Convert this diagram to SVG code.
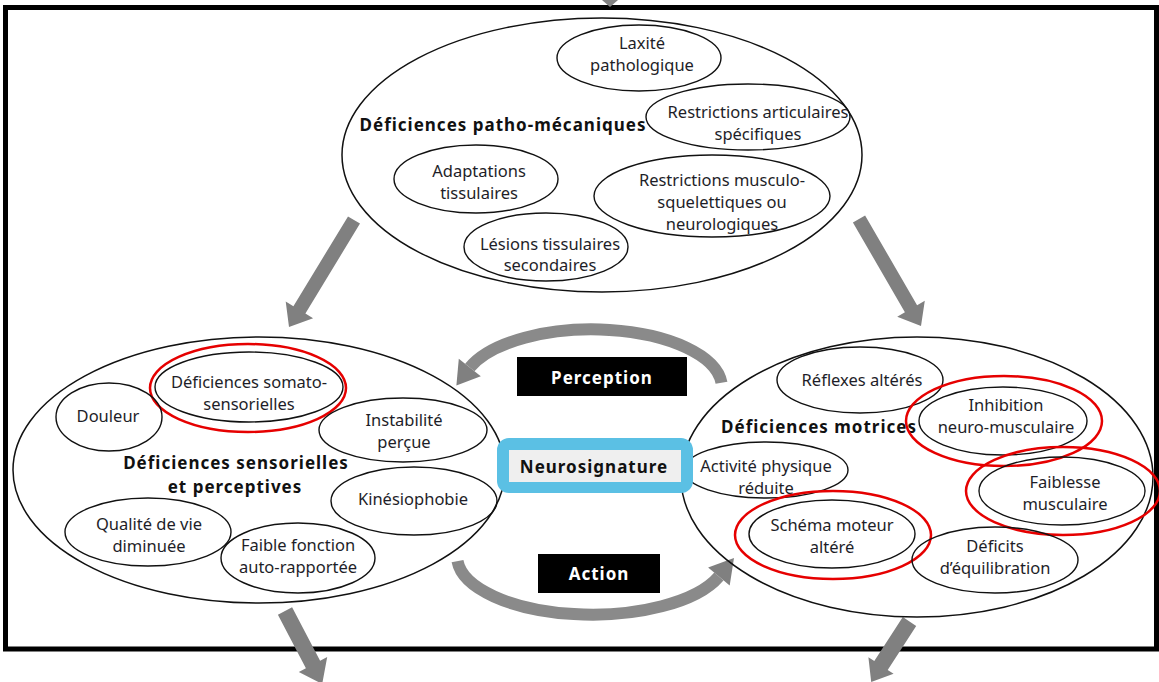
<svg xmlns="http://www.w3.org/2000/svg" width="1159" height="682" viewBox="0 0 1159 682">
<defs>
<style>
.t{font-family:"Noto Sans","Liberation Sans",sans-serif;font-size:16.5px;fill:#1e1e28;text-anchor:middle}
.b{font-family:"Noto Sans","Liberation Sans",sans-serif;font-size:17px;font-weight:bold;fill:#111;text-anchor:middle;letter-spacing:1px}
.w{font-family:"Noto Sans","Liberation Sans",sans-serif;font-size:17px;font-weight:bold;fill:#fff;text-anchor:middle;letter-spacing:1px}
.o{fill:none;stroke:#111;stroke-width:1.5}
.i{fill:none;stroke:#111;stroke-width:1.4}
.r{fill:none;stroke:#e60000;stroke-width:2.5}
.ar{fill:#808080}
.arc{fill:none;stroke:#8a8a8a;stroke-width:12}
</style>
</defs>
<rect x="0" y="0" width="1159" height="682" fill="#fff"/>
<rect x="5.5" y="7.5" width="1151" height="641.5" fill="none" stroke="#000" stroke-width="5"/>

<g id="connectors">
<polygon class="ar" points="602,0 618,0 610,7"/>
<polygon class="ar" points="348.0,216.4 360.0,223.6 305.4,313.5 313.1,318.2 289,327 285.7,301.6 293.4,306.3"/>
<polygon class="ar" points="852.9,222.5 865.1,215.5 917.1,305.2 924.8,300.7 921,326 897.2,316.7 904.9,312.2"/>
<polygon class="ar" points="277.9,614.7 292.1,607.3 320.1,660.8 327.2,657.1 322.2,684 298.8,671.9 305.9,668.2"/>
<polygon class="ar" points="902.8,617.1 916.2,625.9 887.7,669.9 893.6,673.7 871.2,682 868.4,657.3 874.3,661.1"/>
<path class="arc" d="M 721.5 382.8 A 130 58 0 0 0 469.8 367.5"/>
<polygon class="ar" points="480.8,376.2 456.4,385.5 458.8,358.8"/>
<path class="arc" d="M 457.5 561.2 A 135 58 0 0 0 718.9 576.5"/>
<polygon class="ar" points="729.7,585.4 734,558 708.1,567.6"/>
</g>

<g id="patho-mecaniques">
<ellipse class="o" cx="602" cy="155" rx="260" ry="137"/>
<text class="b" x="503" y="131">Déficiences patho-mécaniques</text>
</g>
<g id="laxite">
<ellipse class="i" cx="639" cy="58" rx="82" ry="33"/>
<text class="t" x="642" y="49">Laxité</text>
<text class="t" x="642" y="71">pathologique</text>
</g>
<g id="restrictions-articulaires">
<ellipse class="i" cx="748" cy="117" rx="102" ry="33"/>
<text class="t" x="758" y="118">Restrictions articulaires</text>
<text class="t" x="758" y="140">spécifiques</text>
</g>
<g id="adaptations">
<ellipse class="i" cx="476" cy="179" rx="82" ry="34"/>
<text class="t" x="479" y="177">Adaptations</text>
<text class="t" x="479" y="199">tissulaires</text>
</g>
<g id="restrictions-musculo">
<ellipse class="i" cx="712" cy="196" rx="118" ry="41"/>
<text class="t" x="722" y="186">Restrictions musculo-</text>
<text class="t" x="722" y="208">squelettiques ou</text>
<text class="t" x="722" y="230">neurologiques</text>
</g>
<g id="lesions">
<ellipse class="i" cx="546" cy="247" rx="82" ry="34"/>
<text class="t" x="550" y="250">Lésions tissulaires</text>
<text class="t" x="550" y="271">secondaires</text>
</g>

<g id="sensorielles">
<ellipse class="o" cx="259" cy="470" rx="246" ry="133"/>
<text class="b" x="236" y="469">Déficiences sensorielles</text>
<text class="b" x="235" y="493">et perceptives</text>
</g>
<g id="somato">
<ellipse class="i" cx="249" cy="387" rx="94" ry="35"/>
<ellipse class="r" cx="248" cy="388" rx="98" ry="44"/>
<text class="t" x="249" y="388">Déficiences somato-</text>
<text class="t" x="249" y="410">sensorielles</text>
</g>
<g id="douleur">
<ellipse class="i" cx="109" cy="417" rx="53" ry="34"/>
<text class="t" x="108" y="422">Douleur</text>
</g>
<g id="instabilite">
<ellipse class="i" cx="403" cy="430" rx="84" ry="32"/>
<text class="t" x="404" y="426">Instabilité</text>
<text class="t" x="404" y="448">perçue</text>
</g>
<g id="kinesiophobie">
<ellipse class="i" cx="414" cy="501" rx="83" ry="34"/>
<text class="t" x="413" y="505">Kinésiophobie</text>
</g>
<g id="qualite">
<ellipse class="i" cx="148" cy="532" rx="83" ry="34"/>
<text class="t" x="149" y="530">Qualité de vie</text>
<text class="t" x="149" y="552">diminuée</text>
</g>
<g id="faible-fonction">
<ellipse class="i" cx="298" cy="558" rx="77" ry="35"/>
<text class="t" x="298" y="551">Faible fonction</text>
<text class="t" x="298" y="573">auto-rapportée</text>
</g>

<g id="motrices">
<ellipse class="o" cx="917" cy="477" rx="236" ry="140"/>
<text class="b" x="819" y="433">Déficiences motrices</text>
</g>
<g id="reflexes">
<ellipse class="i" cx="860" cy="380" rx="83" ry="33"/>
<text class="t" x="862" y="386">Réflexes altérés</text>
</g>
<g id="inhibition">
<ellipse class="i" cx="1003" cy="421" rx="84" ry="34"/>
<ellipse class="r" cx="1004" cy="421" rx="98" ry="45"/>
<text class="t" x="1006" y="411">Inhibition</text>
<text class="t" x="1006" y="433">neuro-musculaire</text>
</g>
<g id="activite">
<ellipse class="i" cx="766" cy="470" rx="82" ry="28"/>
<text class="t" x="766" y="472">Activité physique</text>
<text class="t" x="766" y="494">réduite</text>
</g>
<g id="faiblesse">
<ellipse class="i" cx="1062" cy="491" rx="83" ry="34"/>
<ellipse class="r" cx="1063" cy="491" rx="97" ry="44"/>
<text class="t" x="1065" y="488">Faiblesse</text>
<text class="t" x="1065" y="510">musculaire</text>
</g>
<g id="schema">
<ellipse class="i" cx="832" cy="534" rx="83" ry="34"/>
<ellipse class="r" cx="833" cy="535" rx="98" ry="44"/>
<text class="t" x="832" y="531">Schéma moteur</text>
<text class="t" x="832" y="553">altéré</text>
</g>
<g id="equilibration">
<ellipse class="i" cx="995" cy="560" rx="83" ry="33"/>
<text class="t" x="995" y="552">Déficits</text>
<text class="t" x="995" y="574">d’équilibration</text>
</g>

<g id="neurosignature">
<rect x="497" y="438" width="196" height="55" rx="12" fill="#5bc0e4"/>
<rect x="509" y="450" width="172" height="32" fill="#efefef"/>
<text class="b" x="594" y="473">Neurosignature</text>
</g>
<g id="perception">
<rect x="517" y="357" width="170" height="39" fill="#000"/>
<text class="w" x="602" y="384">Perception</text>
</g>
<g id="action">
<rect x="538" y="554" width="122" height="39" fill="#000"/>
<text class="w" x="599" y="580">Action</text>
</g>
</svg>
